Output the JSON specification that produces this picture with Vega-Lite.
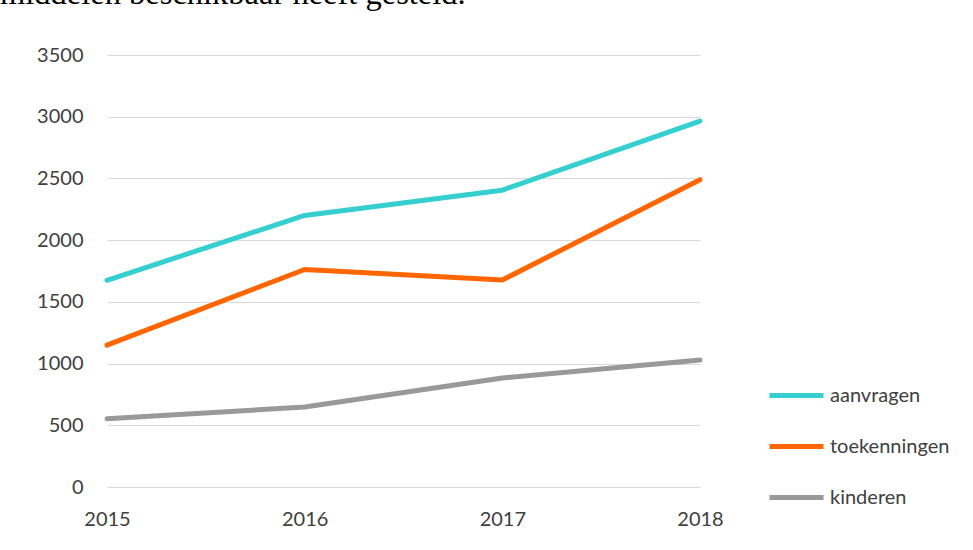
{
  "$schema": "https://vega.github.io/schema/vega-lite/v6.json",
  "width": 593,
  "height": 432,
  "autosize": {"type": "none"},
  "padding": {"left": 107, "top": 55, "right": 273, "bottom": 63},
  "background": "white",
  "title": {
    "text": "middelen beschikbaar heeft gesteld.",
    "anchor": "start",
    "frame": "group",
    "font": "Liberation Serif",
    "fontSize": 32.5,
    "fontWeight": "normal",
    "color": "#000000",
    "baseline": "alphabetic",
    "offset": 9,
    "dx": -107
  },
  "config": {
    "view": {"stroke": null},
    "font": "Lato"
  },
  "data": {
    "values": [
      {"jaar": 2015, "serie": "aanvragen", "waarde": 1675},
      {"jaar": 2016, "serie": "aanvragen", "waarde": 2200},
      {"jaar": 2017, "serie": "aanvragen", "waarde": 2405},
      {"jaar": 2018, "serie": "aanvragen", "waarde": 2965},
      {"jaar": 2015, "serie": "toekenningen", "waarde": 1150},
      {"jaar": 2016, "serie": "toekenningen", "waarde": 1762},
      {"jaar": 2017, "serie": "toekenningen", "waarde": 1677},
      {"jaar": 2018, "serie": "toekenningen", "waarde": 2490},
      {"jaar": 2015, "serie": "kinderen", "waarde": 552},
      {"jaar": 2016, "serie": "kinderen", "waarde": 648},
      {"jaar": 2017, "serie": "kinderen", "waarde": 883},
      {"jaar": 2018, "serie": "kinderen", "waarde": 1029}
    ]
  },
  "mark": {"type": "line", "strokeWidth": 5, "strokeCap": "round", "strokeJoin": "round"},
  "encoding": {
    "x": {
      "field": "jaar",
      "type": "quantitative",
      "scale": {"domain": [2015, 2018], "nice": false, "zero": false},
      "axis": {
        "title": null,
        "values": [2015, 2016, 2017, 2018],
        "format": "d",
        "grid": false,
        "domain": false,
        "ticks": false,
        "labelPadding": 22,
        "labelFont": "Lato",
        "labelFontSize": 20,
        "labelColor": "#404040",
        "labelFlush": false
      }
    },
    "y": {
      "field": "waarde",
      "type": "quantitative",
      "scale": {"domain": [0, 3500], "nice": false},
      "axis": {
        "title": null,
        "values": [0, 500, 1000, 1500, 2000, 2500, 3000, 3500],
        "format": "d",
        "domain": false,
        "ticks": false,
        "grid": true,
        "gridColor": "#d9d9d9",
        "gridWidth": 1,
        "labelPadding": 24,
        "labelFont": "Lato",
        "labelFontSize": 20,
        "labelColor": "#404040"
      }
    },
    "color": {
      "field": "serie",
      "type": "nominal",
      "scale": {
        "domain": ["aanvragen", "toekenningen", "kinderen"],
        "range": ["#36CFCF", "#FF6600", "#999999"]
      },
      "legend": {
        "title": null,
        "orient": "none",
        "legendX": 660,
        "legendY": 311,
        "symbolType": "stroke",
        "symbolSize": 2916,
        "symbolStrokeWidth": 5,
        "labelFont": "Lato",
        "labelFontSize": 20,
        "labelColor": "#404040",
        "labelOffset": 4,
        "rowPadding": 11
      }
    }
  }
}
